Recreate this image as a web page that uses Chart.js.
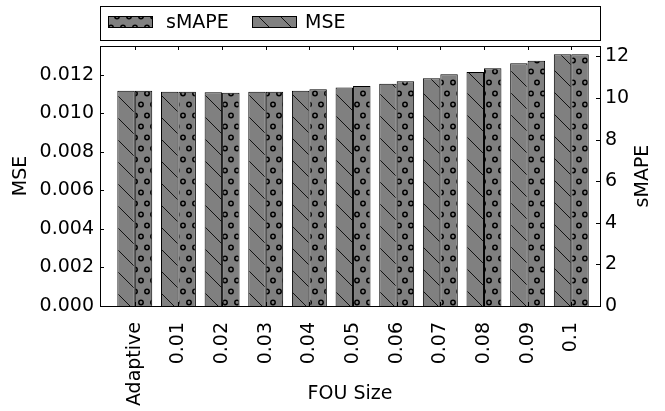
<!DOCTYPE html>
<html>
<head>
<meta charset="utf-8">
<script src="https://cdn.jsdelivr.net/npm/chart.js@4.4.0/dist/chart.umd.min.js"></script>
<style>
  html, body { margin: 0; padding: 0; background: #fff; }
  #wrap { width: 665px; height: 411px; }
</style>
</head>
<body>
<div id="wrap"><canvas id="chart" width="665" height="411"></canvas></div>
<script>
// data
var categories = ['Adaptive', '0.01', '0.02', '0.03', '0.04', '0.05', '0.06', '0.07', '0.08', '0.09', '0.1'];
var mseValues = [0.01118, 0.01113, 0.01110, 0.01113, 0.01118, 0.01134, 0.01154, 0.01182, 0.01215, 0.01260, 0.01307];
var smapeValues = [10.35, 10.30, 10.25, 10.30, 10.42, 10.58, 10.80, 11.14, 11.43, 11.79, 12.10];
var mseTicks = [0, 0.002, 0.004, 0.006, 0.008, 0.010, 0.012];
var smapeTicks = [0, 2, 4, 6, 8, 10, 12];

var FONT = 'DejaVu Sans';
var GRAY = '#808080';

function makeHatch() {
  var c = document.createElement('canvas');
  c.width = 22; c.height = 22;
  var g = c.getContext('2d');
  g.fillStyle = GRAY;
  g.fillRect(0, 0, 22, 22);
  g.strokeStyle = '#111';
  g.lineWidth = 1;
  g.beginPath();
  g.moveTo(-2, -2); g.lineTo(24, 24);
  g.stroke();
  return g.createPattern(c, 'repeat');
}

function makeRings() {
  var c = document.createElement('canvas');
  c.width = 12; c.height = 22;
  var g = c.getContext('2d');
  g.fillStyle = GRAY;
  g.fillRect(0, 0, 12, 22);
  g.strokeStyle = '#000';
  g.lineWidth = 1.5;
  g.beginPath();
  g.arc(3, 5.5, 2.2, 0, Math.PI * 2);
  g.moveTo(11.2, 16.5);
  g.arc(9, 16.5, 2.2, 0, Math.PI * 2);
  g.stroke();
  return g.createPattern(c, 'repeat');
}

var hatch = makeHatch();
var rings = makeRings();

function toXY(vals) {
  return vals.map(function(v, i) { return {x: i, y: v}; });
}

// frame, inward ticks, legend box and right-hand title
var extras = {
  id: 'extras',
  afterDatasetsDraw: function(chart) {
    var ctx = chart.ctx, a = chart.chartArea;
    var sx = chart.scales.x, sy = chart.scales.y, sy1 = chart.scales.y1;
    ctx.save();
    ctx.strokeStyle = '#000';
    ctx.lineWidth = 1;
    ctx.beginPath();
    sy.ticks.forEach(function(t) {
      var p = Math.round(sy.getPixelForValue(t.value)) + 0.5;
      ctx.moveTo(a.left, p); ctx.lineTo(a.left + 4, p);
    });
    sy1.ticks.forEach(function(t) {
      var p = Math.round(sy1.getPixelForValue(t.value)) + 0.5;
      ctx.moveTo(a.right, p); ctx.lineTo(a.right - 4, p);
    });
    sx.ticks.forEach(function(t) {
      var p = Math.round(sx.getPixelForValue(t.value)) + 0.5;
      ctx.moveTo(p, a.top); ctx.lineTo(p, a.top + 4);
      ctx.moveTo(p, a.bottom); ctx.lineTo(p, a.bottom - 4);
    });
    ctx.stroke();
    ctx.strokeRect(a.left + 0.5, a.top + 0.5, a.right - a.left, a.bottom - a.top);
    ctx.restore();
  },
  afterDraw: function(chart) {
    var ctx = chart.ctx, a = chart.chartArea;
    var ds = chart.data.datasets;
    ctx.save();
    ctx.strokeStyle = '#000';
    ctx.lineWidth = 1;
    ctx.strokeRect(a.left + 0.5, 6.5, a.right - a.left, 34);

    ctx.font = '19px "' + FONT + '"';
    ctx.fillStyle = '#000';
    ctx.textBaseline = 'middle';
    ctx.textAlign = 'left';
    var items = [{d: ds[1], bx: 108, tx: 166}, {d: ds[0], bx: 252, tx: 305}];
    items.forEach(function(it) {
      ctx.fillStyle = it.d.backgroundColor;
      ctx.fillRect(it.bx, 16, 44, 12);
      ctx.strokeRect(it.bx + 0.5, 16.5, 44, 11);
      ctx.fillStyle = '#000';
      ctx.fillText(it.d.label, it.tx, 23);
    });

    ctx.translate(643, (a.top + a.bottom) / 2);
    ctx.rotate(-Math.PI / 2);
    ctx.textAlign = 'center';
    ctx.fillText('sMAPE', 0, 0);
    ctx.restore();
  }
};

Chart.defaults.font.family = FONT;
Chart.defaults.font.size = 19;
Chart.defaults.color = '#000';

var ctx = document.getElementById('chart').getContext('2d');
var chart = new Chart(ctx, {
  type: 'bar',
  data: {
    datasets: [{
      label: 'MSE',
      data: toXY(mseValues),
      yAxisID: 'y',
      backgroundColor: hatch,
      borderColor: '#000',
      borderWidth: 1
    }, {
      label: 'sMAPE',
      data: toXY(smapeValues),
      yAxisID: 'y1',
      backgroundColor: rings,
      borderColor: '#000',
      borderWidth: 1
    }]
  },
  options: {
    responsive: false,
    animation: false,
    devicePixelRatio: 1,
    categoryPercentage: 0.8,
    barPercentage: 1.0,
    layout: { padding: { top: 46, left: 0, right: 0, bottom: 0 } },
    plugins: {
      legend: { display: false },
      tooltip: { enabled: false }
    },
    scales: {
      x: {
        type: 'linear',
        offset: false,
        min: -0.797,
        max: 10.658,
        grid: { display: false, offset: false },
        border: { display: false },
        afterBuildTicks: function(scale) {
          scale.ticks = categories.map(function(c, i) { return {value: i}; });
        },
        afterFit: function(scale) { scale.height = 105; },
        ticks: {
          autoSkip: false,
          minRotation: 90,
          maxRotation: 90,
          padding: 8,
          callback: function(v) { return categories[v]; }
        },
        title: { display: true, text: 'FOU Size', padding: { top: 0, bottom: 6 } }
      },
      y: {
        position: 'left',
        min: 0,
        max: 0.0135,
        grid: { display: false, drawTicks: false },
        border: { display: false },
        afterBuildTicks: function(scale) {
          scale.ticks = mseTicks.map(function(v) { return {value: v}; });
        },
        afterFit: function(scale) { scale.width = 100; },
        ticks: {
          padding: 6,
          callback: function(v) { return v.toFixed(3); }
        },
        title: { display: true, text: 'MSE', padding: { top: 10, bottom: 0 } }
      },
      y1: {
        position: 'right',
        min: 0,
        max: 12.5,
        grid: { display: false, drawTicks: false },
        border: { display: false },
        afterBuildTicks: function(scale) {
          scale.ticks = smapeTicks.map(function(v) { return {value: v}; });
        },
        afterFit: function(scale) { scale.width = 65; },
        ticks: { padding: 5 }
      }
    }
  },
  plugins: [extras]
});
</script>
</body>
</html>
